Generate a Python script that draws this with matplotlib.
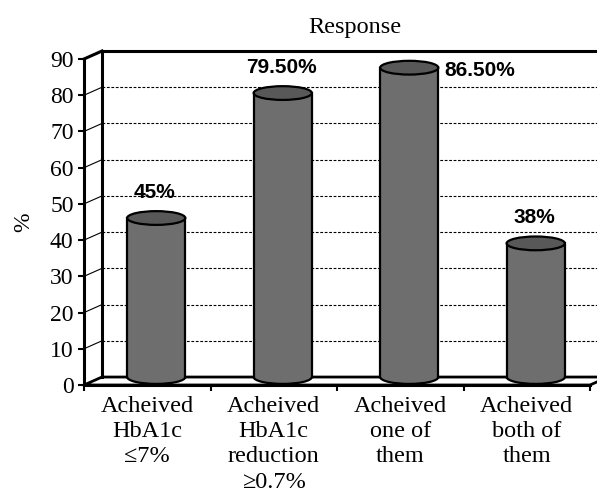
import numpy as np
import matplotlib
matplotlib.use("Agg")
import matplotlib.pyplot as plt
from matplotlib.patches import Rectangle, Ellipse, Arc, Polygon

# data
categories = ["Acheived\nHbA1c\n\u22647%",
              "Acheived\nHbA1c\nreduction\n\u22650.7%",
              "Acheived\none of\nthem",
              "Acheived\nboth of\nthem"]
values = [45, 79.5, 86.5, 38]
value_labels = ["45%", "79.50%", "86.50%", "38%"]
yticks = [0, 10, 20, 30, 40, 50, 60, 70, 80, 90]

serif = "Liberation Serif"
sans = "Liberation Sans"

# 3d look: depth offset of the back wall (data units)
dx, dy = 0.142, 2.2
cyl_w = 0.46      # cylinder width in category units
cyl_eh = 3.8      # height of top ellipse in value units
body = "#6e6e6e"
cap = "#585858"

fig = plt.figure(figsize=(5.97, 4.95), dpi=100)
ax = fig.add_axes([84 / 597, 110 / 495, 506 / 597, 326 / 495])
ax.set_xlim(0, 4)
ax.set_ylim(0, 90)
ax.patch.set_alpha(0)

# floor and left wall
ax.add_patch(Polygon([(0, 0), (4, 0), (4 + dx, dy), (dx, dy)], closed=True,
                     facecolor="white", edgecolor="black", lw=2.0, clip_on=False, zorder=1))
ax.plot([dx, dx], [dy, 90 + dy], color="black", lw=2.2, clip_on=False, zorder=2)
ax.plot([dx, 4 + dx], [90 + dy, 90 + dy], color="black", lw=2.2, clip_on=False, zorder=2)
ax.plot([0, dx], [90, 90 + dy], color="black", lw=2.2, clip_on=False, zorder=2)

# gridlines on back wall and side wall
for v in yticks[1:-1]:
    ax.plot([dx, 4 + dx], [v + dy, v + dy], color="black", lw=0.8,
            ls=(0, (2.5, 1.5)), clip_on=False, zorder=2)
    ax.plot([0, dx], [v, v + dy], color="black", lw=0.8, clip_on=False, zorder=2)

# cylinders
for i, v in enumerate(values):
    cx = i + 0.5 + dx / 2
    base = dy
    top = v + dy / 2
    ax.add_patch(Rectangle((cx - cyl_w / 2, base), cyl_w, top - base,
                           facecolor=body, edgecolor="none", clip_on=False, zorder=3))
    ax.add_patch(Ellipse((cx, base), cyl_w, cyl_eh, facecolor=body,
                         edgecolor="none", clip_on=False, zorder=3))
    ax.add_patch(Arc((cx, base), cyl_w, cyl_eh, theta1=180, theta2=360,
                     color="black", lw=1.6, clip_on=False, zorder=4))
    ax.plot([cx - cyl_w / 2, cx - cyl_w / 2], [base, top], color="black",
            lw=1.6, clip_on=False, zorder=4)
    ax.plot([cx + cyl_w / 2, cx + cyl_w / 2], [base, top], color="black",
            lw=1.6, clip_on=False, zorder=4)
    ax.add_patch(Ellipse((cx, top), cyl_w, cyl_eh, facecolor=cap,
                         edgecolor="black", lw=1.6, clip_on=False, zorder=5))

# value labels
for i, (v, lab) in enumerate(zip(values, value_labels)):
    cx = i + 0.5 + dx / 2
    if v > 85:
        ax.annotate(lab, (cx + cyl_w / 2, v + dy / 2), xytext=(4, -2),
                    textcoords="offset points", ha="left", va="center",
                    fontsize=15, fontweight="bold", family=sans, zorder=6)
    else:
        ax.annotate(lab, (cx, v + dy / 2), xytext=(-1, 18.5),
                    textcoords="offset points", ha="center", va="center",
                    fontsize=15, fontweight="bold", family=sans, zorder=6)

# axes, ticks
for s in ["top", "right"]:
    ax.spines[s].set_visible(False)
ax.spines["left"].set_linewidth(2.2)
ax.spines["bottom"].set_linewidth(2.2)
ax.set_yticks(yticks)
ax.set_yticklabels([str(t) for t in yticks], family=serif, fontsize=17)
ax.tick_params(axis="y", length=4.5, width=1.5, pad=3)
ax.set_xticks([0, 1, 2, 3, 4])
ax.set_xticklabels([])
ax.tick_params(axis="x", which="major", length=4, width=1.5)
ax.set_xticks([0.5, 1.5, 2.5, 3.5], minor=True)
ax.set_xticklabels(categories, minor=True, family=serif, fontsize=17.5,
                   linespacing=1.26)
ax.tick_params(axis="x", which="minor", length=0, pad=8)

ax.set_ylabel("%", family=serif, fontsize=17, labelpad=11)
fig.text(355 / 597, 1 - 27 / 495, "Response", family=serif, fontsize=17.5,
         ha="center", va="center")

fig.savefig("out.png", dpi=100)
